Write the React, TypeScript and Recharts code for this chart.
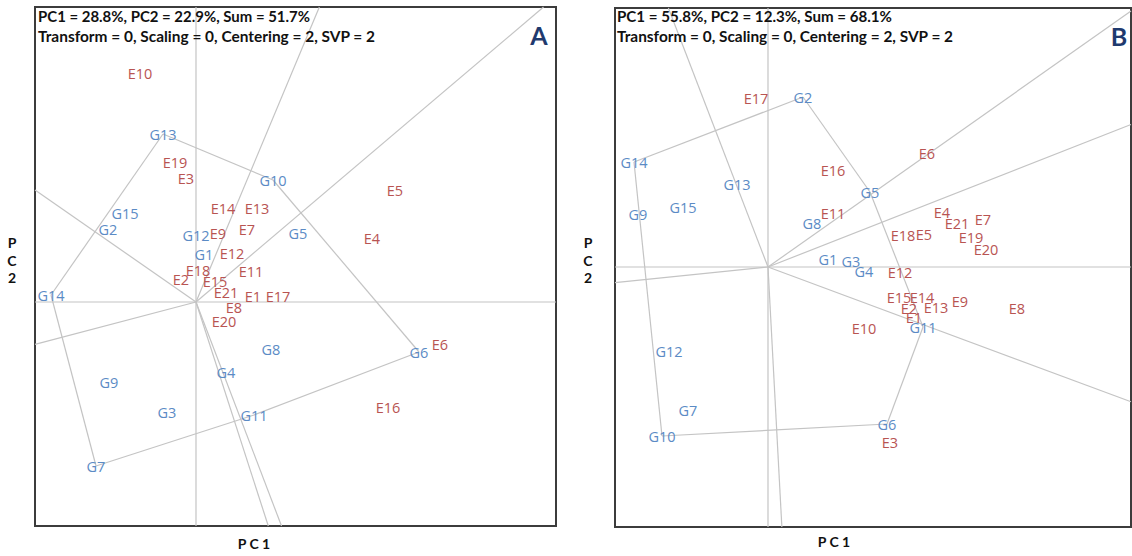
import React from "react";
import { ScatterChart, Scatter, XAxis, YAxis, ReferenceLine, ReferenceArea } from "recharts";

const GENOTYPES = ["G1", "G2", "G3", "G4", "G5", "G6", "G7", "G8", "G9", "G10", "G11", "G12", "G13", "G14", "G15"];
const ENVIRONMENTS = [
  "E1", "E2", "E3", "E4", "E5", "E6", "E7", "E8", "E9", "E10", "E11",
  "E12", "E13", "E14", "E15", "E16", "E17", "E18", "E19", "E20", "E21",
];

// panel A scores
const A_G_PC1 = [0.8, -8.8, -2.9, 3.0, 10.2, 22.3, -10.0, 7.5, -8.7, 7.7, 5.8, 0.0, -3.3, -14.5, -7.1];
const A_G_PC2 = [4.8, 7.3, -11.0, -7.0, 6.9, -5.0, -16.4, -4.7, -8.0, 12.2, -11.3, 6.7, 16.8, 0.7, 8.9];
const A_E_PC1 = [5.7, -1.5, -1.0, 17.6, 19.9, 24.4, 5.1, 3.8, 2.2, -5.6, 5.5, 3.6, 6.1, 2.7, 1.9, 19.2, 8.2, 0.2, -2.1, 2.8, 3.0];
const A_E_PC2 = [0.6, 2.3, 12.4, 6.4, 11.2, -4.2, 7.3, -0.5, 6.9, 22.9, 3.1, 4.9, 9.4, 9.4, 2.1, -10.5, 0.6, 3.2, 14.0, -1.9, 1.0];
const A_HULL = ["G13", "G10", "G6", "G11", "G7", "G14"];

// panel B scores
const B_G_PC1 = [6.0, 3.5, 8.3, 9.6, 10.2, 11.9, -8.0, 4.4, -13.0, -10.6, 15.5, -9.9, -3.1, -13.4, -8.5];
const B_G_PC2 = [0.8, 17.0, 0.6, -0.4, 7.5, -15.7, -14.3, 4.4, 5.3, -16.9, -6.0, -8.4, 8.3, 10.5, 6.0];
const B_E_PC1 = [14.6, 14.1, 12.2, 17.4, 15.6, 15.9, 21.5, 24.9, 19.2, 9.6, 6.5, 13.2, 16.8, 15.4, 13.1, 6.5, -1.2, 13.5, 20.3, 21.8, 18.9];
const B_E_PC2 = [-5.0, -4.1, -17.5, 5.5, 3.3, 11.4, 4.8, -4.1, -3.4, -6.1, 5.4, -0.5, -4.0, -3.0, -3.0, 9.7, 16.9, 3.2, 3.0, 1.8, 4.4];
const B_HULL = ["G14", "G2", "G5", "G11", "G6", "G10"];

const G_COLOR = "#5b8bc5";
const E_COLOR = "#b85452";
const LINE = "#c4c4c4";

type Pt = { name: string; x: number; y: number };
type Dom = { x: [number, number]; y: [number, number] };

const toPoints = (names: string[], xs: number[], ys: number[]): Pt[] =>
  names.map((name, i) => ({ name, x: xs[i], y: ys[i] }));

// point where the ray from the origin through (fx, fy) leaves the plot
function rayEnd(fx: number, fy: number, dom: Dom) {
  let s = Infinity;
  if (fx > 0) s = Math.min(s, dom.x[1] / fx);
  if (fx < 0) s = Math.min(s, dom.x[0] / fx);
  if (fy > 0) s = Math.min(s, dom.y[1] / fy);
  if (fy < 0) s = Math.min(s, dom.y[0] / fy);
  return { x: fx * s, y: fy * s };
}

function labelShape(color: string) {
  return (props: any) => (
    <text
      x={props.cx}
      y={props.cy}
      textAnchor="middle"
      dominantBaseline="central"
      fill={color}
      fontSize={14.5}
      fontFamily="Open Sans, sans-serif"
    >
      {props.payload.name}
    </text>
  );
}

interface PanelProps {
  gen: Pt[];
  env: Pt[];
  hull: string[];
  dom: Dom;
  left: number;
  width: number;
  margin: { top: number; right: number; bottom: number; left: number };
}

function Biplot({ gen, env, hull, dom, left, width, margin }: PanelProps) {
  const verts = hull.map((n) => gen.find((g) => g.name === n)!);
  const sides = verts.map((p, i) => [p, verts[(i + 1) % verts.length]]);
  // rays from the origin, perpendicular to each polygon side
  const rays = sides.map(([p, q]) => {
    const dx = q.x - p.x;
    const dy = q.y - p.y;
    const t = -(p.x * dx + p.y * dy) / (dx * dx + dy * dy);
    return rayEnd(p.x + t * dx, p.y + t * dy, dom);
  });

  return (
    <div style={{ position: "absolute", left, top: 0 }}>
      <ScatterChart width={width} height={556} margin={margin}>
        <XAxis type="number" dataKey="x" domain={dom.x} hide allowDataOverflow />
        <YAxis type="number" dataKey="y" domain={dom.y} hide allowDataOverflow />
        <ReferenceLine x={0} stroke={LINE} strokeWidth={1.2} />
        <ReferenceLine y={0} stroke={LINE} strokeWidth={1.2} />
        {sides.map(([p, q], i) => (
          <ReferenceLine
            key={"s" + i}
            segment={[{ x: p.x, y: p.y }, { x: q.x, y: q.y }]}
            stroke={LINE}
            strokeWidth={1.2}
            ifOverflow="visible"
          />
        ))}
        {rays.map((r, i) => (
          <ReferenceLine
            key={"r" + i}
            segment={[{ x: 0, y: 0 }, r]}
            stroke={LINE}
            strokeWidth={1.2}
            ifOverflow="visible"
          />
        ))}
        <ReferenceArea
          x1={dom.x[0]}
          x2={dom.x[1]}
          y1={dom.y[0]}
          y2={dom.y[1]}
          fill="none"
          fillOpacity={0}
          stroke="#3c3c3c"
          strokeWidth={2}
          ifOverflow="visible"
        />
        <Scatter data={env} shape={labelShape(E_COLOR)} isAnimationActive={false} />
        <Scatter data={gen} shape={labelShape(G_COLOR)} isAnimationActive={false} />
      </ScatterChart>
    </div>
  );
}

const titleStyle = { fontFamily: "Lato, sans-serif", fontWeight: 700, fontSize: 14.5, fill: "#111" };

export default function App() {
  return (
    <div style={{ position: "absolute", left: 0, top: 0, width: 1132, height: 556, background: "#fff" }}>
      <Biplot
        gen={toPoints(GENOTYPES, A_G_PC1, A_G_PC2)}
        env={toPoints(ENVIRONMENTS, A_E_PC1, A_E_PC2)}
        hull={A_HULL}
        dom={{ x: [-16.1, 36.0], y: [-22.4, 29.5] }}
        left={0}
        width={560}
        margin={{ top: 7, right: 4, bottom: 30, left: 35 }}
      />
      <Biplot
        gen={toPoints(GENOTYPES, B_G_PC1, B_G_PC2)}
        env={toPoints(ENVIRONMENTS, B_E_PC1, B_E_PC2)}
        hull={B_HULL}
        dom={{ x: [-15.3, 36.3], y: [-26.0, 25.9] }}
        left={580}
        width={552}
        margin={{ top: 8, right: 1, bottom: 29, left: 35 }}
      />
      <svg width={1132} height={556} style={{ position: "absolute", left: 0, top: 0, pointerEvents: "none" }}>
        <text x={38} y={22} textLength={272} lengthAdjust="spacingAndGlyphs" {...titleStyle}>
          PC1 = 28.8%, PC2 = 22.9%, Sum = 51.7%
        </text>
        <text x={38} y={42} textLength={337} lengthAdjust="spacingAndGlyphs" {...titleStyle}>
          Transform = 0, Scaling = 0, Centering = 2, SVP = 2
        </text>
        <text x={617} y={22} textLength={275} lengthAdjust="spacingAndGlyphs" {...titleStyle}>
          PC1 = 55.8%, PC2 = 12.3%, Sum = 68.1%
        </text>
        <text x={617} y={42} textLength={336} lengthAdjust="spacingAndGlyphs" {...titleStyle}>
          Transform = 0, Scaling = 0, Centering = 2, SVP = 2
        </text>
        <text x={539} y={45} textAnchor="middle" fontFamily="Lato, sans-serif" fontWeight={700} fontSize={25} fill="#1f3a6e">
          A
        </text>
        <text x={1119} y={46} textAnchor="middle" fontFamily="Lato, sans-serif" fontWeight={700} fontSize={25} fill="#1f3a6e">
          B
        </text>
        <text x={254} y={549} textAnchor="middle" {...titleStyle} fontSize={14}>
          P C 1
        </text>
        <text x={834} y={547} textAnchor="middle" {...titleStyle} fontSize={14}>
          P C 1
        </text>
        {["P", "C", "2"].map((c, i) => (
          <React.Fragment key={c}>
            <text x={12} y={248 + i * 17.5} textAnchor="middle" {...titleStyle} fontSize={14}>
              {c}
            </text>
            <text x={588} y={248 + i * 17.5} textAnchor="middle" {...titleStyle} fontSize={14}>
              {c}
            </text>
          </React.Fragment>
        ))}
      </svg>
    </div>
  );
}
